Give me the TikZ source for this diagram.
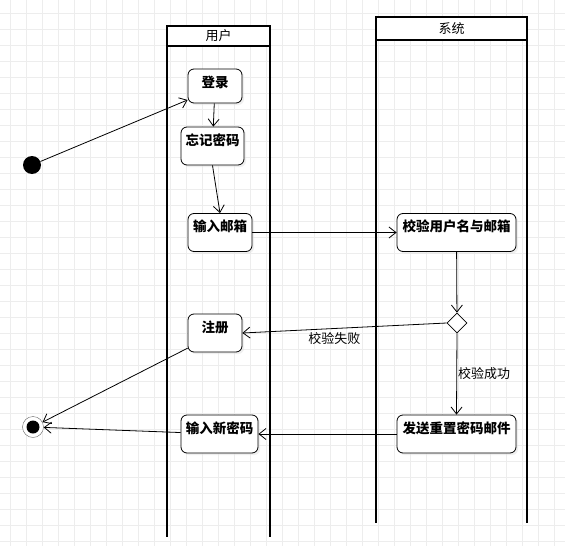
\documentclass[tikz,border=0pt]{standalone}
\usepackage{fontspec}
\newfontfamily\cjk{Noto Sans CJK SC}
\usetikzlibrary{arrows.meta}
\usetikzlibrary{shapes.geometric}
\usetikzlibrary{shadows}
\tikzset{>={Straight Barb[length=7pt,width=11pt]}}
\tikzset{act/.style = {shape=rectangle,rounded corners=6pt,draw,line width=0.8pt,fill=white,
    font=\cjk\bfseries\fontsize{13.5}{15}\selectfont,text height=14pt,text depth=16pt,
    inner ysep=4pt,inner xsep=1pt,
    drop shadow={shadow xshift=2pt,shadow yshift=-2pt,fill=black!12}}}
\tikzset{lanehead/.style = {draw,line width=1.6pt,fill=white,
    font=\cjk\fontsize{13}{15}\selectfont,inner sep=0pt}}
\tikzset{lane/.style = {line width=1.6pt}}
\tikzset{flow/.style = {->,line width=0.8pt}}
\tikzset{gridline/.style = {black!7,line width=0.6pt}}
\tikzset{flowlabel/.style = {font=\cjk\fontsize{13}{15}\selectfont,inner sep=1pt}}

\begin{document}
\begin{tikzpicture}[x=1pt,y=-1pt]
  \useasboundingbox (0,0) rectangle (565,546);
  \fill[white] (0,0) rectangle (565,546);
  \foreach \gx in {10,26,...,565} \draw[gridline] (\gx,0) -- (\gx,546);
  \foreach \gy in {13,29,...,546} \draw[gridline] (0,\gy) -- (565,\gy);

  % swimlanes
  \draw[lane] (167,46) -- (167,537);
  \draw[lane] (270,46) -- (270,537);
  \draw[lane] (376,40) -- (376,523);
  \draw[lane] (527,40) -- (527,523);
  \node[lanehead,minimum width=103pt,minimum height=20pt] (userhead) at (218.5,36) {用户};
  \node[lanehead,minimum width=151pt,minimum height=23pt] (syshead) at (451.5,28.5) {系统};

  % activities
  \node[act,minimum width=54pt,text depth=12pt] (login) at (215,86) {登录};
  \node[act,minimum width=63pt] (forget) at (212.5,146) {忘记密码};
  \node[act,minimum width=64pt] (email) at (220,232.5) {输入邮箱};
  \node[act,minimum width=119pt] (verify) at (456.5,232.5) {校验用户名与邮箱};
  \node[act,minimum width=54pt] (reg) at (215,333) {注册};
  \node[act,minimum width=77pt] (newpw) at (219.5,434) {输入新密码};
  \node[act,minimum width=119pt] (send) at (456.5,434) {发送重置密码邮件};
  \node[diamond,draw,line width=0.8pt,fill=white,minimum size=20pt,inner sep=0pt] (chk) at (457,323) {};

  % start and end
  \node[circle,fill=black,minimum size=18pt,inner sep=0pt] (start) at (32,165) {};
  \node[circle,draw=black!60,fill=white,minimum size=21pt,inner sep=0pt] (fin) at (33,427) {};
  \node[circle,fill=black,minimum size=13pt,inner sep=0pt] (fincore) at (fin) {};

  % flows
  \draw[flow] (start) -- (login.-153);
  \draw[flow] (login) -- (forget);
  \draw[flow] (forget.south) -- (email.north);
  \draw[flow] (email) -- (verify);
  \draw[flow] (verify) -- (chk);
  \draw[flow] (chk.west) -- node[flowlabel,pos=0.55,below=3pt] {校验失败} (reg.east);
  \draw[flow] (chk.south) -- node[flowlabel,right=0pt] {校验成功} (send.north);
  \draw[flow] (send) -- (newpw);
  \draw[flow] (newpw) -- (fin);
  \draw[flow] (reg.-151) -- (fin);
\end{tikzpicture}
\end{document}
